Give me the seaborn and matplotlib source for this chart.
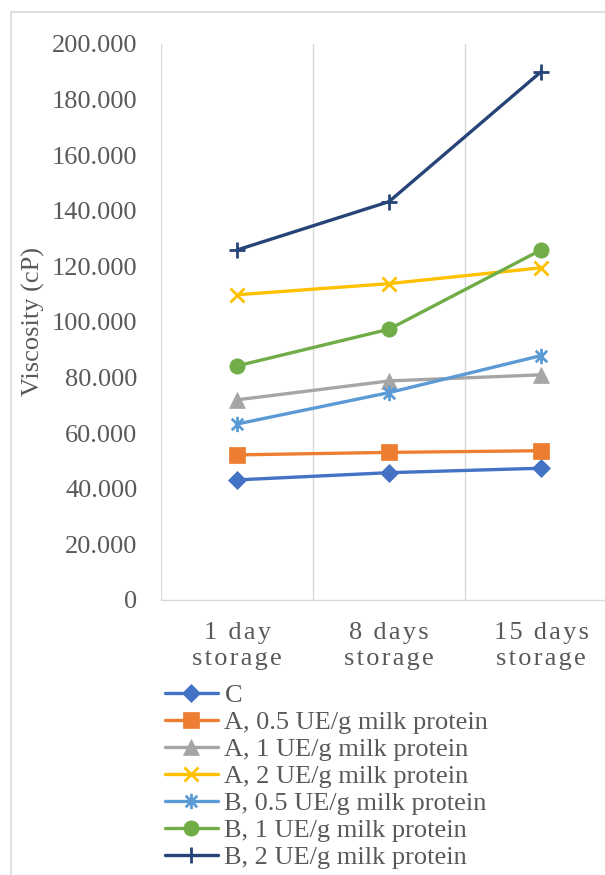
import matplotlib
matplotlib.use("Agg")
import matplotlib.pyplot as plt
from matplotlib.path import Path
from matplotlib.patches import Rectangle
import pandas as pd
import seaborn as sns

# Storage time points and treatment series
storage = ["1 day\nstorage", "8 days\nstorage", "15 days\nstorage"]
series = [
    "C",
    "A, 0.5 UE/g milk protein",
    "A, 1 UE/g milk protein",
    "A, 2 UE/g milk protein",
    "B, 0.5 UE/g milk protein",
    "B, 1 UE/g milk protein",
    "B, 2 UE/g milk protein",
]

# Viscosity (cP) per series over storage
c_vals = [43200, 45800, 47400]
a05_vals = [52200, 53100, 53700]
a1_vals = [72000, 78800, 81000]
a2_vals = [109800, 113800, 119500]
b05_vals = [63300, 74600, 87900]
b1_vals = [84200, 97400, 125900]
b2_vals = [125900, 143300, 190000]

y_ticks = [0, 20000, 40000, 60000, 80000, 100000, 120000, 140000, 160000, 180000, 200000]

colors = ["#4472C4", "#ED7D31", "#A5A5A5", "#FFC000", "#5B9BD5", "#70AD47", "#264478"]

star = Path(
    [(0, -1), (0, 1), (-0.75, -0.75), (0.75, 0.75), (-0.75, 0.75), (0.75, -0.75)],
    [Path.MOVETO, Path.LINETO] * 3,
)
marker_specs = [
    ("D", 9, True),
    ("s", 11, True),
    ("^", 11, True),
    ("x", 10, False),
    (star, 11, False),
    ("o", 11, True),
    ("+", 12, False),
]

values = [c_vals, a05_vals, a1_vals, a2_vals, b05_vals, b1_vals, b2_vals]
rows = []
for name, vals in zip(series, values):
    for pos, v in enumerate(vals):
        rows.append({"series": name, "pos": pos, "viscosity": v})
df = pd.DataFrame(rows)

sns.set_style("white")
plt.rcParams["font.family"] = ["Liberation Serif", "DejaVu Serif"]
text_color = "#595959"
fs = 19

fig = plt.figure(figsize=(6.05, 8.75), dpi=100)
ax = fig.add_axes([161 / 605, 275 / 875, 456 / 605, 556 / 875])

sns.lineplot(
    data=df, x="pos", y="viscosity", hue="series", hue_order=series,
    palette=dict(zip(series, colors)), linewidth=2.4, legend=False, ax=ax,
    errorbar=None,
)

lines = ax.get_lines()[: len(series)]
for line, col, (mk, ms, filled) in zip(lines, colors, marker_specs):
    line.set_marker(mk)
    line.set_markersize(ms)
    line.set_markerfacecolor(col if filled else "none")
    line.set_markeredgecolor(col)
    line.set_markeredgewidth(0.5 if filled else 2.0)


def spaced(label):
    out = []
    for row in label.split("\n"):
        out.append("\u200a \u200a".join("\u200a".join(w) for w in row.split(" ")))
    return "\n".join(out)


ax.set_xlim(-0.5, 2.5)
ax.set_ylim(0, 200000)
ax.set_xticks(range(len(storage)))
ax.set_xticklabels([spaced(s) for s in storage], fontsize=fs, color=text_color,
                   linespacing=1.25)
ax.set_xticks([-0.5, 0.5, 1.5, 2.5], minor=True)
ax.set_yticks(y_ticks)
ax.set_yticklabels([f"{v:,.0f}".replace(",", ".") for v in y_ticks],
                   fontsize=fs, color=text_color)
ax.tick_params(axis="x", which="major", length=0, pad=16)
ax.tick_params(axis="x", which="minor", length=4, color="#D9D9D9", width=1)
ax.tick_params(axis="y", length=0, pad=17)
ax.grid(False)
ax.grid(which="minor", axis="x", color="#D9D9D9", linewidth=1)
for side in ["left", "top", "right"]:
    ax.spines[side].set_visible(False)
ax.spines["bottom"].set_color("#D9D9D9")
ax.spines["bottom"].set_linewidth(1)
ax.set_xlabel("")
ax.set_ylabel("Viscosity (cP)", fontsize=fs, color=text_color, labelpad=5)

fig.legend(
    lines, series, loc="upper left",
    bbox_to_anchor=(165 / 605, 1 - 684 / 875), bbox_transform=fig.transFigure,
    frameon=False, borderpad=0, borderaxespad=0, handlelength=2.0,
    handletextpad=0.25, labelspacing=0.13, fontsize=fs, labelcolor=text_color,
)

fig.patches.append(
    Rectangle((11 / 605, -0.1), 1.2, 1 - 12 / 875 + 0.1, transform=fig.transFigure,
              fill=False, edgecolor="#D9D9D9", linewidth=1.2)
)

fig.savefig("out.png", dpi=100)
